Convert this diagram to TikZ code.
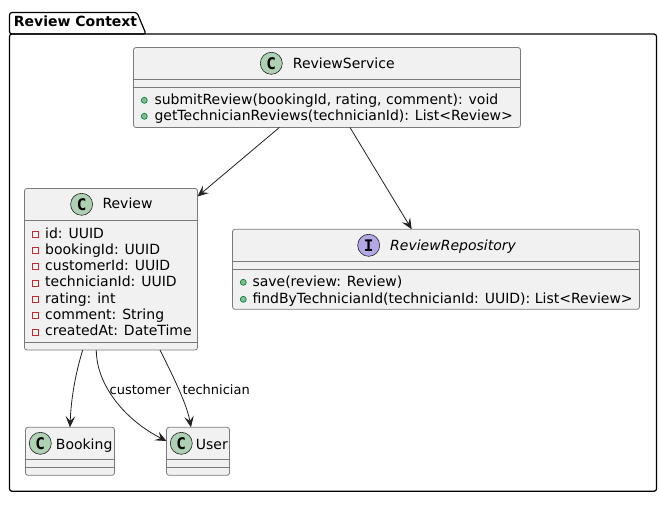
\documentclass[tikz,border=0pt]{standalone}
\usepackage{fontspec}
\setmainfont{DejaVu Sans}
\newfontfamily\glyphfont{DejaVu Sans Mono}
\usetikzlibrary{arrows.meta,calc}
\definecolor{ink}{HTML}{222222}
\definecolor{edgegrey}{HTML}{7A7A7A}
\definecolor{boxfill}{HTML}{F1F1F1}
\definecolor{spotc}{HTML}{ADD1B2}
\definecolor{spoti}{HTML}{B4A7E5}
\definecolor{pubfill}{HTML}{84BE84}
\definecolor{publine}{HTML}{038048}
\definecolor{privline}{HTML}{C82930}
\tikzset{
  x=1pt,y=-1pt,
  classbox/.style={draw=edgegrey,fill=boxfill,line width=0.8pt,rounded corners=2.5pt,inner sep=0pt,outer sep=0pt},
  sepline/.style={draw=edgegrey,line width=0.8pt},
  label/.style={font=\fontsize{14}{14}\selectfont,anchor=base west,inner sep=0pt,text=black},
  edgelabel/.style={font=\fontsize{13}{13}\selectfont,anchor=base west,inner sep=0pt,text=black},
  spot/.style={circle,draw=ink,line width=0.6pt,minimum size=22pt,inner sep=0pt,outer sep=0pt,text=black,font=\glyphfont\bfseries\fontsize{16}{16}\selectfont},
  pub/.style={circle,draw=publine,fill=pubfill,line width=0.7pt,minimum size=6pt,inner sep=0pt},
  priv/.style={rectangle,draw=privline,fill=none,line width=0.7pt,minimum size=6pt,inner sep=0pt},
  link/.style={draw=ink,line width=0.8pt,-{Stealth[length=11pt,width=9.5pt,inset=4.5pt]}},
  folder/.style={draw=black,line width=1.2pt,rounded corners=2.5pt}
}
\begin{document}
\begin{tikzpicture}
\useasboundingbox (0,0) rectangle (659,507);
\fill[white] (0,0) rectangle (659,507);
% package
\draw[folder] (9.5,34) -- (9.5,12.5) -- (137,12.5) -- (146,34) -- cycle;
\draw[folder] (9.5,34) -- (656.5,34) -- (656.5,491.3) -- (9.5,491.3) -- cycle;
\node[label,font=\bfseries\fontsize{14}{14}\selectfont] (pkg) at (13.7,26.7) {Review Context};
% ReviewService
\node[classbox,minimum width=387pt,minimum height=80pt] (rs) at (327,87.5) {};
\draw[sepline] (rs.west |- 0,79.3) -- (rs.east |- 0,79.3);
\draw[sepline] (rs.west |- 0,87.3) -- (rs.east |- 0,87.3);
\node[spot,fill=spotc] (rsc) at (271.3,63.3) {C};
\node[label] (rst) at (292.7,68) {ReviewService};
\node[pub] (rsa) at (144.3,100.3) {};
\node[label] (rsat) at (154.3,104.5) {submitReview(bookingId, rating, comment): void};
\node[pub] (rsb) at (144.3,116.3) {};
\node[label] (rsbt) at (154.3,120.5) {getTechnicianReviews(technicianId): List<Review>};
% Review
\node[classbox,minimum width=173pt,minimum height=161.5pt] (rv) at (111,269.25) {};
\draw[sepline] (rv.west |- 0,220.3) -- (rv.east |- 0,220.3);
\draw[sepline] (rv.west |- 0,342.3) -- (rv.east |- 0,342.3);
\node[spot,fill=spotc] (rvc) at (81.6,204.3) {C};
\node[label] (rvt) at (102.3,208.5) {Review};
\node[priv] (f1) at (35.5,234.3) {};
\node[label] (f1t) at (45,238.5) {id: UUID};
\node[priv] (f2) at (35.5,250.3) {};
\node[label] (f2t) at (45,254.7) {bookingId: UUID};
\node[priv] (f3) at (35.5,266.3) {};
\node[label] (f3t) at (45,270.7) {customerId: UUID};
\node[priv] (f4) at (35.5,283.3) {};
\node[label] (f4t) at (45,286.7) {technicianId: UUID};
\node[priv] (f5) at (35.5,299.3) {};
\node[label] (f5t) at (45,303.3) {rating: int};
\node[priv] (f6) at (35.5,315.3) {};
\node[label] (f6t) at (45,319.3) {comment: String};
\node[priv] (f7) at (35.5,332.3) {};
\node[label] (f7t) at (45,335.3) {createdAt: DateTime};
% ReviewRepository
\node[classbox,minimum width=407pt,minimum height=80pt] (rp) at (436,269.3) {};
\draw[sepline] (rp.west |- 0,261.3) -- (rp.east |- 0,261.3);
\draw[sepline] (rp.west |- 0,269.3) -- (rp.east |- 0,269.3);
\node[spot,fill=spoti] (rpc) at (368.7,245.3) {I};
\node[label,font=\itshape\fontsize{14}{14}\selectfont] (rpt) at (390,250) {ReviewRepository};
\node[pub] (m1) at (243.3,282.3) {};
\node[label] (m1t) at (252.3,286.5) {save(review: Review)};
\node[pub] (m2) at (243.3,299.3) {};
\node[label] (m2t) at (252.3,303.3) {findByTechnicianId(technicianId: UUID): List<Review>};
% Booking
\node[classbox,minimum width=89pt,minimum height=48pt] (bk) at (70,451.3) {};
\draw[sepline] (bk.west |- 0,459.3) -- (bk.east |- 0,459.3);
\draw[sepline] (bk.west |- 0,467.3) -- (bk.east |- 0,467.3);
\node[spot,fill=spotc] (bkc) at (40.3,443.3) {C};
\node[label] (bkt) at (55.7,449) {Booking};
% User
\node[classbox,minimum width=63pt,minimum height=48pt] (us) at (198,451.3) {};
\draw[sepline] (us.west |- 0,459.3) -- (us.east |- 0,459.3);
\draw[sepline] (us.west |- 0,467.3) -- (us.east |- 0,467.3);
\node[spot,fill=spotc] (usc) at (181.3,443.3) {C};
\node[label] (ust) at (195.7,449) {User};
% connectors
\draw[link] ([xshift=-47.7pt]rs.south) -- ([yshift=-8pt]rv.north east);
\draw[link] ([xshift=23pt]rs.south) -- ([xshift=-24.3pt]rp.north);
\draw[link] ([xshift=-28.3pt]rv.south) .. controls (75,375) and (71,400) .. (bk.north);
\draw[link] ([xshift=-14.7pt]rv.south) .. controls (96.3,385) and (125,420) .. ([yshift=-13.7pt]us.north west);
\draw[link] ([xshift=49pt]rv.south) .. controls (175,380) and (187,405) .. ([xshift=-7pt]us.north);
\node[edgelabel] (lc) at (109.5,394.5) {customer};
\node[edgelabel] (lt) at (182.3,394.5) {technician};
\end{tikzpicture}
\end{document}
